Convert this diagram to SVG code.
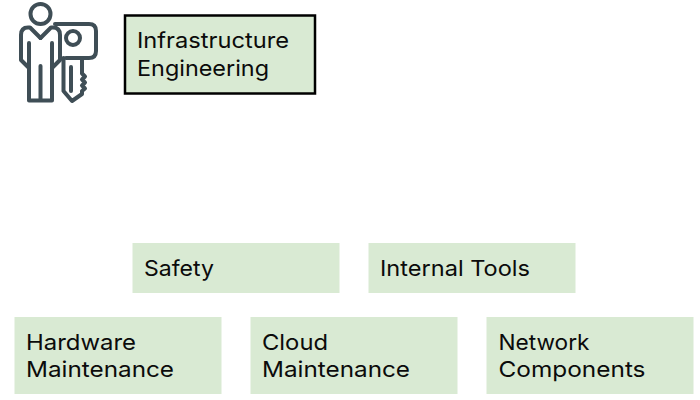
<svg xmlns="http://www.w3.org/2000/svg" width="700" height="400" viewBox="0 0 700 400">
<style>
.box{fill:#d9ead3}
.t{font-family:"Inter","Open Sans","Liberation Sans",sans-serif;font-size:22px;fill:#0b0b0b}
.ic{fill:none;stroke:#3f4e56;stroke-width:4;stroke-linejoin:round;stroke-linecap:round}
</style>
<rect width="700" height="400" fill="#fff"/>
<g id="icon" class="ic">
<circle cx="40.500" cy="14" r="10"/>
<path d="M40.500 38 L30 27.500 H28 Q21 27.500 21 35 V60 L29 68"/>
<path d="M40.500 38 L51 27.500 H53 Q60 27.500 60 35 V60 L52 68"/>
<path d="M29 43 V100.500 H52 V43"/>
<path d="M40.500 66 V100"/>
<path d="M55 24 H89 Q96 24 96 31 V51 Q96 58 89 58 H66"/>
<circle cx="73" cy="38" r="7"/>
<path d="M63.500 58 V91 L72 101 L82 94 V91 L85 88.500 L82 85.500 L85 82.500 L82 79.500 L85 76.500 L82 73.500 V58"/>
<path d="M71 67 V91"/>
</g>
<g id="n-infra">
<rect class="box" x="125" y="15.500" width="190" height="78" stroke="#000" stroke-width="2.500"/>
<text class="t" x="137" y="48" textLength="152" lengthAdjust="spacingAndGlyphs">Infrastructure</text>
<text class="t" x="137" y="76" textLength="132" lengthAdjust="spacingAndGlyphs">Engineering</text>
</g>
<g id="n-safety">
<rect class="box" x="132.500" y="243" width="207" height="50"/>
<text class="t" x="144" y="276" textLength="70" lengthAdjust="spacingAndGlyphs">Safety</text>
</g>
<g id="n-tools">
<rect class="box" x="368.500" y="243" width="207" height="50"/>
<text class="t" x="380" y="276" textLength="150" lengthAdjust="spacingAndGlyphs">Internal Tools</text>
</g>
<g id="n-hardware">
<rect class="box" x="14.500" y="317" width="207" height="77"/>
<text class="t" x="26" y="350" textLength="110" lengthAdjust="spacingAndGlyphs">Hardware</text>
<text class="t" x="26" y="377" textLength="148" lengthAdjust="spacingAndGlyphs">Maintenance</text>
</g>
<g id="n-cloud">
<rect class="box" x="250.500" y="317" width="207" height="77"/>
<text class="t" x="262" y="350" textLength="66" lengthAdjust="spacingAndGlyphs">Cloud</text>
<text class="t" x="262" y="377" textLength="148" lengthAdjust="spacingAndGlyphs">Maintenance</text>
</g>
<g id="n-network">
<rect class="box" x="486.500" y="317" width="207" height="77"/>
<text class="t" x="498.500" y="350" textLength="91" lengthAdjust="spacingAndGlyphs">Network</text>
<text class="t" x="498.500" y="377" textLength="147" lengthAdjust="spacingAndGlyphs">Components</text>
</g>
<g id="connectors"></g>
</svg>
